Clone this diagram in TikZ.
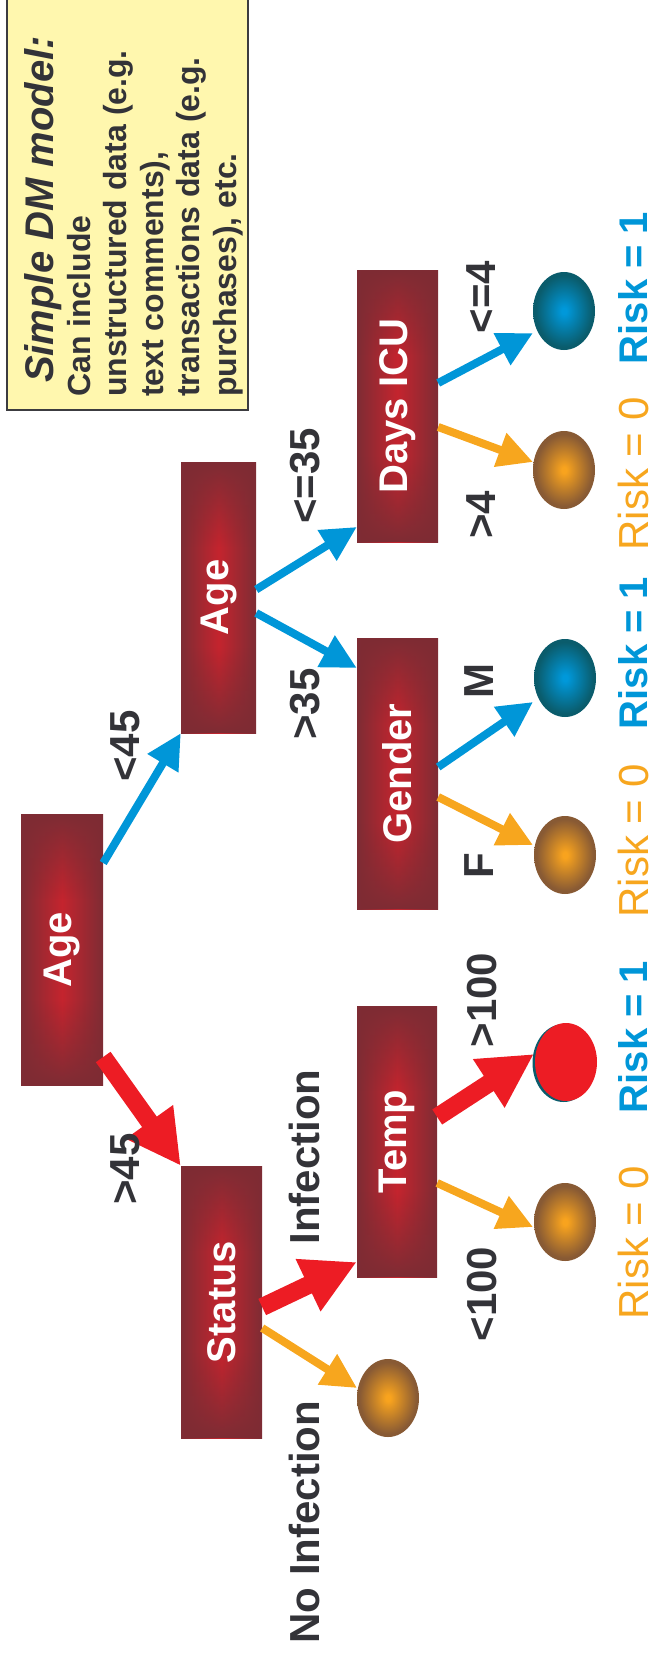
\documentclass[tikz,border=0pt]{standalone}
\usepackage{fontspec}
\setmainfont{Liberation Sans}
\usepackage{graphicx}
\usetikzlibrary{arrows.meta,shapes.geometric,calc,fadings}
\definecolor{boxred}{RGB}{196,36,46}
\definecolor{boxdark}{RGB}{126,44,52}
\definecolor{arrblue}{RGB}{0,150,216}
\definecolor{arrorange}{RGB}{247,166,30}
\definecolor{arrred}{RGB}{237,28,36}
\definecolor{txtgray}{RGB}{51,51,56}
\definecolor{lfOin}{RGB}{248,163,30}
\definecolor{lfOout}{RGB}{136,90,52}
\definecolor{lfBin}{RGB}{0,152,218}
\definecolor{lfBout}{RGB}{10,92,108}
\definecolor{noteyellow}{RGB}{255,247,174}
\definecolor{noteborder}{RGB}{60,60,64}
\pgfdeclareradialshading{leafO}{\pgfpoint{0bp}{0bp}}{color(0bp)=(lfOin); color(2bp)=(lfOin); color(23bp)=(lfOout); color(50bp)=(lfOout)}
\pgfdeclareradialshading{leafB}{\pgfpoint{0bp}{0bp}}{color(0bp)=(lfBin); color(2bp)=(lfBin); color(23bp)=(lfBout); color(50bp)=(lfBout)}
\begin{document}
\begin{tikzpicture}[x=1pt,y=-1pt,
  dmbox/.style={rectangle, inner sep=0pt, minimum width=81pt, minimum height=272pt,
    text=white, font=\fontsize{40}{48}\selectfont\bfseries,
    path picture={
      \shade[left color=boxdark, right color=boxdark, middle color=boxred]
        (path picture bounding box.south west) rectangle (path picture bounding box.north east);
      \fill[boxdark, path fading=south]
        (path picture bounding box.north west) rectangle ([yshift=-85pt]path picture bounding box.north east);
      \fill[boxdark, path fading=north]
        (path picture bounding box.south west) rectangle ([yshift=85pt]path picture bounding box.south east);
    }},
  leaf/.style={ellipse, inner sep=0pt, minimum width=62pt, minimum height=78pt},
  leafo/.style={leaf, shade, shading=leafO},
  leafb/.style={leaf, shade, shading=leafB},
  elabel/.style={rotate=90, text=txtgray, font=\fontsize{42}{50}\selectfont\bfseries, inner sep=0pt},
  riskone/.style={rotate=90, text=arrblue, font=\fontsize{40}{48}\selectfont\bfseries, inner sep=0pt},
  riskzero/.style={rotate=90, text=arrorange, font=\fontsize{42}{50}\selectfont, inner sep=0pt},
  barrow/.style={draw=arrblue, line width=8pt, -{Triangle[length=35pt,width=34pt]}},
  oarrow/.style={draw=arrorange, line width=8pt, -{Triangle[length=35pt,width=34pt]}},
  rarrow/.style={draw=arrred, line width=18pt, -{Triangle[length=54pt,width=54pt]}},
  notetitle/.style={rotate=90, anchor=base west, inner sep=0pt, text=txtgray, font=\fontsize{40}{48}\selectfont\bfseries\itshape},
  notebody/.style={rotate=90, anchor=base west, inner sep=0pt, text=txtgray, font=\fontsize{32}{38}\selectfont\bfseries}
]
\path[use as bounding box] (0,0) rectangle (657,1659);

% note box
\node[draw=noteborder, line width=2pt, fill=noteyellow, minimum width=241pt, minimum height=412pt, inner sep=0pt] (note) at (127.5,204) {};
\node[notetitle] (nt) at (53,383) {Simple DM model:};
\node[notebody] (nb1) at (90,397) {Can include};
\node[notebody] (nb2) at (126.5,397) {unstructured data (e.g.};
\node[notebody] (nb3) at (163,397) {text comments),};
\node[notebody] (nb4) at (199.5,397) {transactions data (e.g.};
\node[notebody] (nb5) at (236,397) {purchases), etc.};

% decision boxes
\node[dmbox, minimum width=82pt, minimum height=271pt] (age1) at (62,950) {\rotatebox{90}{Age}};
\node[dmbox, minimum width=75pt, minimum height=271pt] (age2) at (218.5,597.5) {\rotatebox{90}{Age}};
\node[dmbox] (status) at (221.5,1302) {\rotatebox{90}{Status}};
\node[dmbox, minimum width=80pt, minimum height=271pt] (temp) at (397,1141.5) {\rotatebox{90}{Temp}};
\node[dmbox, minimum height=271pt] (gender) at (397.5,773.5) {\rotatebox{90}{Gender}};
\node[dmbox] (days) at (397.5,406) {\rotatebox{90}{Days ICU}};

% leaves
\node[leafb] (l1) at (564,311) {};
\node[leafo] (l2) at (564,470) {};
\node[leafb] (l3) at (565,678) {};
\node[leafo] (l4) at (565,855) {};
\node[leaf, fill=lfBout] (l5b) at (563.5,1063) {};
\node[leaf, fill=arrred] (l5) at (566,1062) {};
\node[leafo] (l6) at (565,1222) {};
\node[leafo] (l7) at (388,1398) {};

% connectors
\draw[barrow] ($(age1.east)+(0,-87)$) -- (age2.south west);
\draw[rarrow] ($(age1.east)+(0,107)$) -- (status.north west);
\draw[barrow] ($(age2.east)+(0,-8)$) -- ($(days.west)+(0,121)$);
\draw[barrow] ($(age2.east)+(0,15.5)$) -- ($(gender.west)+(0,-105.5)$);
\draw[barrow] ($(days.east)+(0,-23)$) -- ($(l1.center)+(-31,22)$);
\draw[oarrow] ($(days.east)+(0,21)$) -- ($(l2.center)+(-31,-8)$);
\draw[barrow] ($(gender.east)+(0,-6.5)$) -- ($(l3.center)+(-32,24)$);
\draw[oarrow] ($(gender.east)+(0,23.5)$) -- ($(l4.center)+(-32,-10)$);
\draw[rarrow] ($(status.east)+(0,5)$) -- ($(temp.west)+(0,120.5)$);
\draw[oarrow] ($(status.east)+(0,26)$) -- ($(l7.center)+(-31,-10)$);
\draw[rarrow] ($(temp.east)+(0,-24.5)$) -- ($(l5.center)+(-32,-8)$);
\draw[oarrow] ($(temp.east)+(0,41.5)$) -- ($(l6.center)+(-32,5)$);

% edge labels
\node[elabel] (e1) at (125,746) {<45};
\node[elabel] (e2) at (125,1169) {>45};
\node[elabel] (e3) at (305,476) {<=35};
\node[elabel] (e4) at (305,704) {>35};
\node[elabel] (e5) at (304,1157) {Infection};
\node[elabel] (e6) at (304,1522) {No Infection};
\node[elabel] (e7) at (481,297) {<=4};
\node[elabel] (e8) at (481,515) {>4};
\node[elabel] (e9) at (479,681) {M};
\node[elabel] (e10) at (479,866) {F};
\node[elabel] (e11) at (482,1000) {>100};
\node[elabel] (e12) at (482,1294) {<100};

% risk labels
\node[riskone] (r1) at (633,288) {Risk = 1};
\node[riskzero] (r2) at (633,474) {Risk = 0};
\node[riskone] (r3) at (633,653) {Risk = 1};
\node[riskzero] (r4) at (633,841) {Risk = 0};
\node[riskone] (r5) at (633,1037) {Risk = 1};
\node[riskzero] (r6) at (633,1243) {Risk = 0};
\end{tikzpicture}
\end{document}
